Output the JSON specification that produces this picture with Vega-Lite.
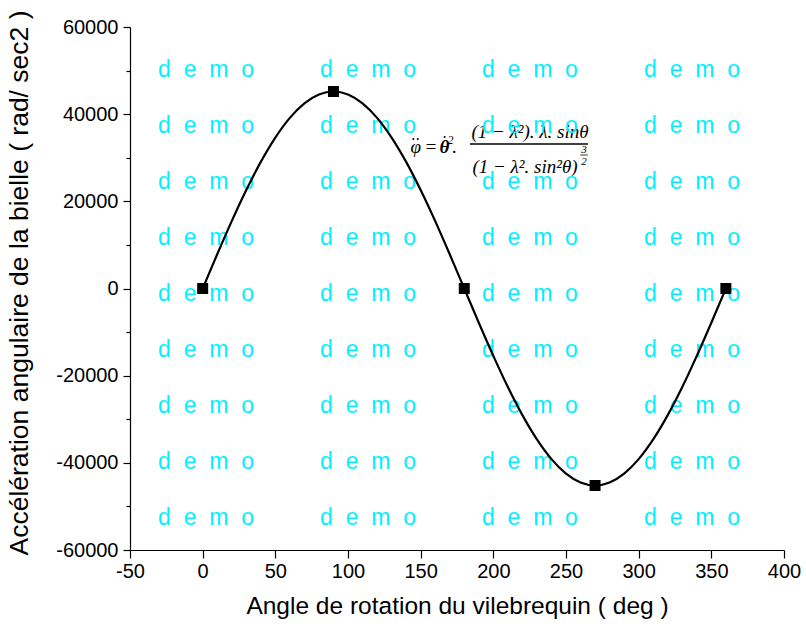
{
  "$schema": "https://vega.github.io/schema/vega-lite/v6.json",
  "width": 654,
  "height": 523,
  "autosize": {"type": "none"},
  "padding": {"left": 130, "top": 27, "right": 22, "bottom": 84},
  "background": "white",
  "config": {
    "view": {"stroke": null},
    "axis": {
      "domainColor": "black", "tickColor": "black", "labelColor": "black", "titleColor": "black",
      "labelFont": "Liberation Sans", "titleFont": "Liberation Sans", "labelFontSize": 20, "titleFontSize": 24,
      "titleFontWeight": "normal", "grid": false, "domainWidth": 1.2, "tickWidth": 1.2
    }
  },
  "datasets": {
    "curve": [
      {"angle": 0, "acc": 0}, {"angle": 10, "acc": 7849}, {"angle": 20, "acc": 15460}, {"angle": 30, "acc": 22600},
      {"angle": 40, "acc": 29054}, {"angle": 50, "acc": 34625}, {"angle": 60, "acc": 39145}, {"angle": 70, "acc": 42474},
      {"angle": 80, "acc": 44513}, {"angle": 90, "acc": 45200}, {"angle": 100, "acc": 44513}, {"angle": 110, "acc": 42474},
      {"angle": 120, "acc": 39145}, {"angle": 130, "acc": 34625}, {"angle": 140, "acc": 29054}, {"angle": 150, "acc": 22600},
      {"angle": 160, "acc": 15460}, {"angle": 170, "acc": 7849}, {"angle": 180, "acc": 0}, {"angle": 190, "acc": -7849},
      {"angle": 200, "acc": -15460}, {"angle": 210, "acc": -22600}, {"angle": 220, "acc": -29054}, {"angle": 230, "acc": -34625},
      {"angle": 240, "acc": -39145}, {"angle": 250, "acc": -42474}, {"angle": 260, "acc": -44513}, {"angle": 270, "acc": -45200},
      {"angle": 280, "acc": -44513}, {"angle": 290, "acc": -42474}, {"angle": 300, "acc": -39145}, {"angle": 310, "acc": -34625},
      {"angle": 320, "acc": -29054}, {"angle": 330, "acc": -22600}, {"angle": 340, "acc": -15460}, {"angle": 350, "acc": -7849},
      {"angle": 360, "acc": 0}
    ],
    "points": [
      {"angle": 0, "acc": 0}, {"angle": 90, "acc": 45200}, {"angle": 180, "acc": 0}, {"angle": 270, "acc": -45200}, {"angle": 360, "acc": 0}
    ],
    "demo": [
      {"x": 2.3, "y": 50133}, {"x": 113.8, "y": 50133}, {"x": 225.2, "y": 50133}, {"x": 336.7, "y": 50133},
      {"x": 2.3, "y": 37285}, {"x": 113.8, "y": 37285}, {"x": 225.2, "y": 37285}, {"x": 336.7, "y": 37285},
      {"x": 2.3, "y": 24435}, {"x": 113.8, "y": 24435}, {"x": 225.2, "y": 24435}, {"x": 336.7, "y": 24435},
      {"x": 2.3, "y": 11586}, {"x": 113.8, "y": 11586}, {"x": 225.2, "y": 11586}, {"x": 336.7, "y": 11586},
      {"x": 2.3, "y": -1263}, {"x": 113.8, "y": -1263}, {"x": 225.2, "y": -1263}, {"x": 336.7, "y": -1263},
      {"x": 2.3, "y": -14112}, {"x": 113.8, "y": -14112}, {"x": 225.2, "y": -14112}, {"x": 336.7, "y": -14112},
      {"x": 2.3, "y": -26962}, {"x": 113.8, "y": -26962}, {"x": 225.2, "y": -26962}, {"x": 336.7, "y": -26962},
      {"x": 2.3, "y": -39811}, {"x": 113.8, "y": -39811}, {"x": 225.2, "y": -39811}, {"x": 336.7, "y": -39811},
      {"x": 2.3, "y": -52661}, {"x": 113.8, "y": -52661}, {"x": 225.2, "y": -52661}, {"x": 336.7, "y": -52661}
    ],
    "formula": [
      {"x": 146.6, "y": 32466, "t": "φ", "size": 19},
      {"x": 157.1, "y": 32466, "t": "=", "size": 19},
      {"x": 170.6, "y": 34072, "t": "2", "size": 12},
      {"x": 173.4, "y": 32466, "t": ".", "size": 19},
      {"x": 225.2, "y": 35908, "t": "(1 − λ²). λ. sinθ", "size": 19},
      {"x": 221.8, "y": 27877, "t": "(1 − λ². sin²θ)", "size": 19},
      {"x": 262.4, "y": 31778, "t": "3", "size": 11},
      {"x": 262.4, "y": 29024, "t": "2", "size": 11}
    ],
    "bold": [
      {"x": 166.3, "y": 32466, "t": "θ"}
    ],
    "dots": [
      {"x": 145.0, "y": 34302}, {"x": 148.0, "y": 34302}, {"x": 166.5, "y": 34761}
    ],
    "bars": [
      {"x": 183.9, "x2": 265.1, "y": 33155, "w": 1.5},
      {"x": 259.8, "x2": 265.0, "y": 30630, "w": 0.8}
    ]
  },
  "layer": [
    {
      "data": {"name": "bars"},
      "mark": {"type": "rule", "color": "black"},
      "encoding": {
        "x": {"field": "x", "type": "quantitative",
          "scale": {"domain": [-50, 400], "nice": false, "zero": false},
          "axis": {
            "title": "Angle de rotation du vilebrequin ( deg )",
            "values": [-50, -25, 0, 25, 50, 75, 100, 125, 150, 175, 200, 225, 250, 275, 300, 325, 350, 375, 400],
            "labelExpr": "datum.value % 50 === 0 ? '' + datum.value : ''",
            "tickSize": {"condition": {"test": "datum.value % 50 === 0", "value": 8}, "value": 4},
            "labelPadding": 3,
            "titlePadding": 13,
            "titleFontSize": 24.5,
            "labelFlush": false
          }},
        "x2": {"field": "x2"},
        "y": {"field": "y", "type": "quantitative",
          "scale": {"domain": [-60000, 60000], "nice": false, "zero": false},
          "axis": {
            "title": "Accélération angulaire de la bielle ( rad/ sec2 )",
            "values": [-60000, -50000, -40000, -30000, -20000, -10000, 0, 10000, 20000, 30000, 40000, 50000, 60000],
            "labelExpr": "datum.value % 20000 === 0 ? '' + datum.value : ''",
            "tickSize": {"condition": {"test": "datum.value % 20000 === 0", "value": 7}, "value": 4},
            "labelPadding": 5,
            "titlePadding": 22,
            "titleFontSize": 26.5,
            "titleY": 255.5,
            "labelFlush": false
          }},
        "strokeWidth": {"field": "w", "type": "quantitative", "scale": null}
      }
    },
    {
      "data": {"name": "formula"},
      "mark": {"type": "text", "font": "Liberation Serif", "fontStyle": "italic", "color": "black", "baseline": "middle", "align": "center"},
      "encoding": {
        "x": {"field": "x", "type": "quantitative"},
        "y": {"field": "y", "type": "quantitative"},
        "text": {"field": "t"},
        "size": {"field": "size", "type": "quantitative", "scale": null}
      }
    },
    {
      "data": {"name": "bold"},
      "mark": {"type": "text", "font": "Liberation Serif", "fontStyle": "italic", "fontWeight": "bold", "fontSize": 19, "color": "black", "baseline": "middle", "align": "center"},
      "encoding": {
        "x": {"field": "x", "type": "quantitative"},
        "y": {"field": "y", "type": "quantitative"},
        "text": {"field": "t"}
      }
    },
    {
      "data": {"name": "dots"},
      "mark": {"type": "point", "shape": "circle", "filled": true, "color": "black", "size": 4, "opacity": 1},
      "encoding": {
        "x": {"field": "x", "type": "quantitative"},
        "y": {"field": "y", "type": "quantitative"}
      }
    },
    {
      "data": {"name": "demo"},
      "mark": {"type": "text", "font": "Liberation Sans", "fontSize": 23, "color": "#00F0FF", "baseline": "middle", "align": "center", "text": "d\u00a0 e\u00a0 m\u00a0 o"},
      "encoding": {
        "x": {"field": "x", "type": "quantitative"},
        "y": {"field": "y", "type": "quantitative"}
      }
    },
    {
      "data": {"name": "curve"},
      "mark": {"type": "line", "color": "black", "strokeWidth": 2.2, "interpolate": "monotone"},
      "encoding": {
        "x": {"field": "angle", "type": "quantitative"},
        "y": {"field": "acc", "type": "quantitative"}
      }
    },
    {
      "data": {"name": "points"},
      "mark": {"type": "point", "shape": "square", "filled": true, "color": "black", "size": 121, "opacity": 1},
      "encoding": {
        "x": {"field": "angle", "type": "quantitative"},
        "y": {"field": "acc", "type": "quantitative"}
      }
    }
  ]
}
